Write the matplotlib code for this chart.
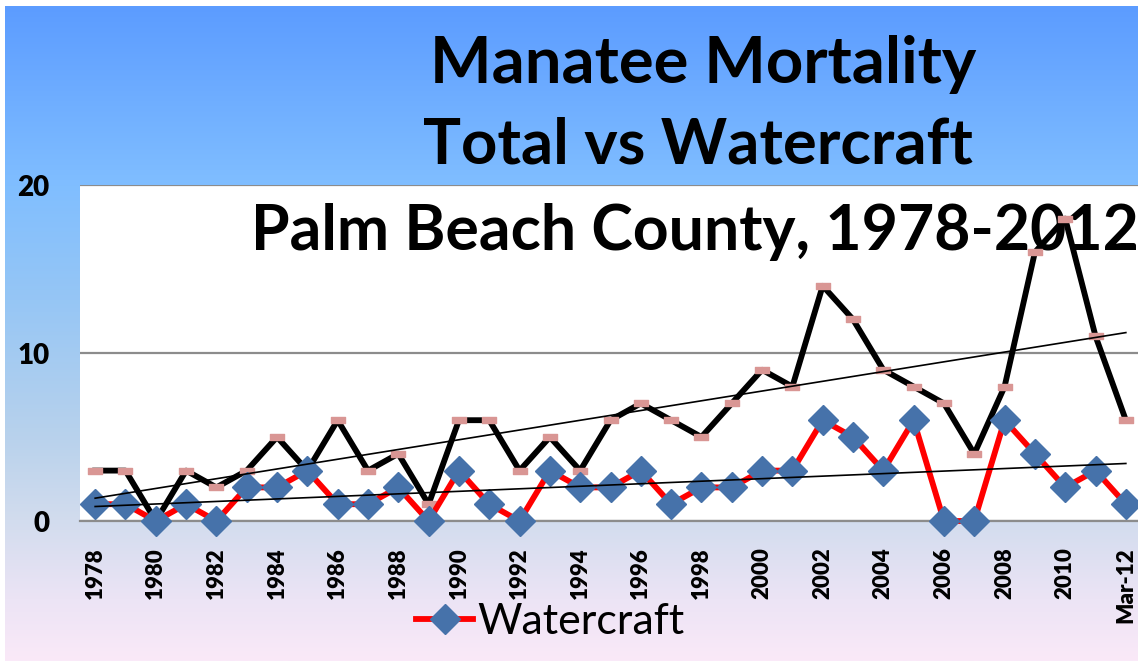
import numpy as np
import matplotlib
matplotlib.use("Agg")
import matplotlib.pyplot as plt
from matplotlib.path import Path

years = list(range(1978, 2013))
total = [3, 3, 0, 3, 2, 3, 5, 3, 6, 3, 4, 1, 6, 6, 3, 5, 3, 6, 7, 6,
         5, 7, 9, 8, 14, 12, 9, 8, 7, 4, 8, 16, 18, 11, 6]
watercraft = [1, 1, 0, 1, 0, 2, 2, 3, 1, 1, 2, 0, 3, 1, 0, 3, 2, 2, 3, 1,
              2, 2, 3, 3, 6, 5, 3, 6, 0, 0, 6, 4, 2, 3, 1]
tick_labels = [str(y) for y in years[:-1:2]] + ["Mar-12"]
tick_pos = list(range(0, len(years) - 1, 2)) + [len(years) - 1]
y_labels = ["0", "10", "20"]
title_lines = ["Manatee Mortality", "Total vs Watercraft", "Palm Beach County, 1978-2012"]

plt.rcParams['font.family'] = ['Lato', 'DejaVu Sans']

W, H = 1138, 667
fig = plt.figure(figsize=(W / 100, H / 100), dpi=100)

# background gradient (blue on top, pale pink at the bottom)
bg = fig.add_axes([5 / W, 6 / H, 1 - 5 / W, 1 - 12 / H], zorder=-5)
bg.axis("off")
ys = np.linspace(6, 661, 400)
stops_y = [6, 185, 300, 440, 521, 600, 661]
stops_c = np.array([[92, 156, 255], [128, 190, 255], [150, 198, 245],
                    [185, 210, 236], [210, 220, 238], [236, 228, 245],
                    [250, 233, 248]]) / 255
grad = np.stack([np.interp(ys, stops_y, stops_c[:, k]) for k in range(3)], axis=1)
bg.imshow(grad[:, None, :], aspect="auto", extent=[0, 1, 0, 1])

x = np.arange(len(years))
ax = fig.add_axes([80 / W, 1 - 521 / H, (1141 - 80) / W, (521 - 185) / H])
ax.set_facecolor("white")
ax.set_xlim(-0.5, len(years) - 0.5)
ax.set_ylim(0, 20)
ax.set_yticks([0, 10, 20])
ax.set_yticklabels(y_labels, fontsize=20, fontweight="heavy")
ax.yaxis.grid(True, color="#8c8c8c", linewidth=1.6)
ax.set_axisbelow(True)
for s in ["left", "right", "top"]:
    ax.spines[s].set_visible(False)
ax.spines["bottom"].set_color("#8c8c8c")
ax.spines["bottom"].set_linewidth(1.6)
ax.set_xticks(tick_pos)
ax.set_xticklabels(tick_labels, rotation=90, fontsize=16, fontweight="heavy", va="top", ha="center")
ax.tick_params(axis="x", length=0, pad=19)
ax.tick_params(axis="y", length=0, pad=22)

dash = Path([(-1, -0.4), (1, -0.4), (1, 0.4), (-1, 0.4), (-1, -0.4)],
            [Path.MOVETO, Path.LINETO, Path.LINETO, Path.LINETO, Path.CLOSEPOLY])

ax.plot(x, total, color="black", linewidth=4.2, marker=dash, markersize=10,
        markerfacecolor="#d99694", markeredgecolor="#d99694", zorder=3, clip_on=False)
wc_line, = ax.plot(x, watercraft, color="#ff0000", linewidth=4.2, marker="D", markersize=15,
                   markerfacecolor="#4672aa", markeredgecolor="#4672aa", zorder=4,
                   clip_on=False, label="Watercraft")

# linear trendlines
for series in (total, watercraft):
    k, b = np.polyfit(x, series, 1)
    ax.plot(x[[0, -1]], k * x[[0, -1]] + b, color="black", linewidth=1.2, zorder=5)

# titles (behind the lines)
title_pos = [(703, 83, 47), (698, 163, 45.5), (695, 250, 45)]
for txt, (px, py, fs) in zip(title_lines, title_pos):
    ax.text(px / W, 1 - py / H, txt, transform=fig.transFigure, ha="center",
            va="baseline", fontsize=fs, fontweight="bold", zorder=1, clip_on=False)

ax.legend(handles=[wc_line], loc="center left", bbox_to_anchor=(416 / W, 1 - 622 / H),
          bbox_transform=fig.transFigure, frameon=False, fontsize=31, borderpad=0,
          borderaxespad=0, handlelength=1.33, handletextpad=0.1, numpoints=1)

fig.savefig("out.png", dpi=100)
